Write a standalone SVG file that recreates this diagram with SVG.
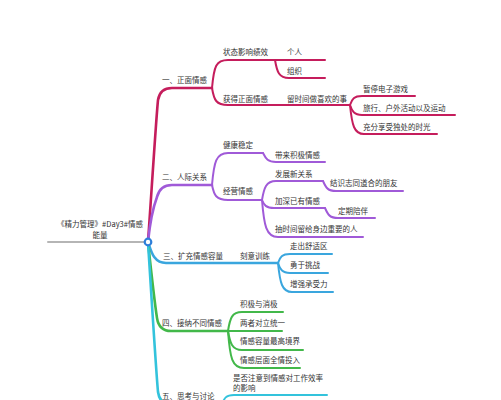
<svg xmlns="http://www.w3.org/2000/svg" width="501" height="400" viewBox="0 0 501 400">
<style>
text{font-family:"Noto Sans CJK SC","Noto Sans",sans-serif;font-size:7.5px;fill:#333}
.c{fill:none;stroke-linecap:round;stroke-linejoin:round}
.b1{stroke:#c51d5c}
.b2{stroke:#a05ad8}
.b3{stroke:#3aa6de}
.b4{stroke:#42b84a}
.b5{stroke:#33c3dc}
.m{stroke-width:2.6}
.s{stroke-width:2}
</style>
<rect width="501" height="400" fill="#fff"/>
<g id="connectors">
<path class="c s" d="M48,242 H146" stroke="#b5b5b5"/>
<!-- branch 1 -->
<path class="c m b1" d="M148,242 C151,200 156,120 158,100 Q160,88 172,88 H212"/>
<path class="c s b1" d="M212,88 C214,66 216,60 228,60 H275"/>
<path class="c s b1" d="M275,60 H325"/>
<path class="c s b1" d="M275,60 C277,72 279,78 289,78 H325"/>
<path class="c s b1" d="M212,88 C214,100 216,105 228,105 H350"/>
<path class="c s b1" d="M350,105 C352,99 354,96 362,96 H415"/>
<path class="c s b1" d="M350,105 C352,111 354,115 362,115 H455"/>
<path class="c s b1" d="M350,105 C352,125 354,134 364,134 H437"/>
<!-- branch 2 -->
<path class="c m b2" d="M148,242 C150,222 154,205 157,197 Q160,185 172,185 H212"/>
<path class="c s b2" d="M212,185 C214,162 216,153 228,153 H263"/>
<path class="c s b2" d="M263,153 C266,159 268,162 276,162 H325"/>
<path class="c s b2" d="M212,185 C214,195 216,200 228,200 H262"/>
<path class="c s b2" d="M262,200 C264,188 266,181 276,181 H323"/>
<path class="c s b2" d="M323,181 C326,188 328,191 336,191 H403"/>
<path class="c s b2" d="M262,200 C264,205 266,208 274,208 H325"/>
<path class="c s b2" d="M325,208 C328,215 330,218 338,218 H375"/>
<path class="c s b2" d="M262,200 C264,225 266,237 278,237 H363"/>
<!-- branch 3 -->
<path class="c m b3" d="M148,242 C151,250 153,263 166,263 H278"/>
<path class="c s b3" d="M278,263 C280,257 282,254 290,254 H332"/>
<path class="c s b3" d="M278,263 C280,269 282,273 290,273 H328"/>
<path class="c s b3" d="M278,263 C280,283 282,292 292,292 H333"/>
<!-- branch 4 -->
<path class="c m b4" d="M148,242 C151,270 155,305 157,318 Q159,331 171,331 H228"/>
<path class="c s b4" d="M228,331 C230,318 232,312 242,312 H283"/>
<path class="c s b4" d="M228,331 H282"/>
<path class="c s b4" d="M228,331 C230,343 232,350 242,350 H303"/>
<path class="c s b4" d="M228,331 C230,358 232,368 244,368 H300"/>
<!-- branch 5 -->
<path class="c m b5" d="M148,242 C151,290 156,370 158,392 Q160,405 172,405 H222"/>
<path class="c s b5" d="M222,405 C224,398 226,395 234,395 H327"/>
</g>
<g id="root">
<text x="100" y="227" text-anchor="middle">《精力管理》#Day3#情感</text>
<text x="100" y="238" text-anchor="middle">能量</text>
<circle cx="148" cy="242" r="3.3" fill="#fff" stroke="#2e7fd9" stroke-width="2.2"/>
</g>
<g id="n1"><text x="162" y="83">一、正面情感</text></g>
<g id="n1a"><text x="223" y="55">状态影响绩效</text></g>
<g id="n1a1"><text x="287" y="55">个人</text></g>
<g id="n1a2"><text x="287" y="74">组织</text></g>
<g id="n1b"><text x="223" y="102">获得正面情感</text></g>
<g id="n1b1"><text x="287" y="102">留时间做喜欢的事</text></g>
<g id="n1b1a"><text x="363" y="92">暂停电子游戏</text></g>
<g id="n1b1b"><text x="363" y="111">旅行、户外活动以及运动</text></g>
<g id="n1b1c"><text x="363" y="130">充分享受独处的时光</text></g>
<g id="n2"><text x="162" y="180">二、人际关系</text></g>
<g id="n2a"><text x="223" y="148">健康稳定</text></g>
<g id="n2a1"><text x="275" y="158">带来积极情感</text></g>
<g id="n2b"><text x="223" y="194">经营情感</text></g>
<g id="n2b1"><text x="275" y="177">发展新关系</text></g>
<g id="n2b1a"><text x="330" y="186">结识志同道合的朋友</text></g>
<g id="n2b2"><text x="275" y="204">加深已有情感</text></g>
<g id="n2b2a"><text x="338" y="214">定期陪伴</text></g>
<g id="n2b3"><text x="275" y="232">抽时间留给身边重要的人</text></g>
<g id="n3"><text x="163" y="259">三、扩充情感容量</text></g>
<g id="n3a"><text x="240" y="259">刻意训练</text></g>
<g id="n3a1"><text x="290" y="249">走出舒适区</text></g>
<g id="n3a2"><text x="290" y="268">勇于挑战</text></g>
<g id="n3a3"><text x="290" y="287">增强承受力</text></g>
<g id="n4"><text x="162" y="326">四、接纳不同情感</text></g>
<g id="n4a"><text x="240" y="307">积极与消极</text></g>
<g id="n4b"><text x="240" y="326">两者对立统一</text></g>
<g id="n4c"><text x="240" y="344">情感容量最高境界</text></g>
<g id="n4d"><text x="240" y="363">情感层面全情投入</text></g>
<g id="n5"><text x="162" y="399">五、思考与讨论</text></g>
<g id="n5a"><text x="233" y="381">是否注意到情感对工作效率</text><text x="233" y="391">的影响</text></g>
</svg>
